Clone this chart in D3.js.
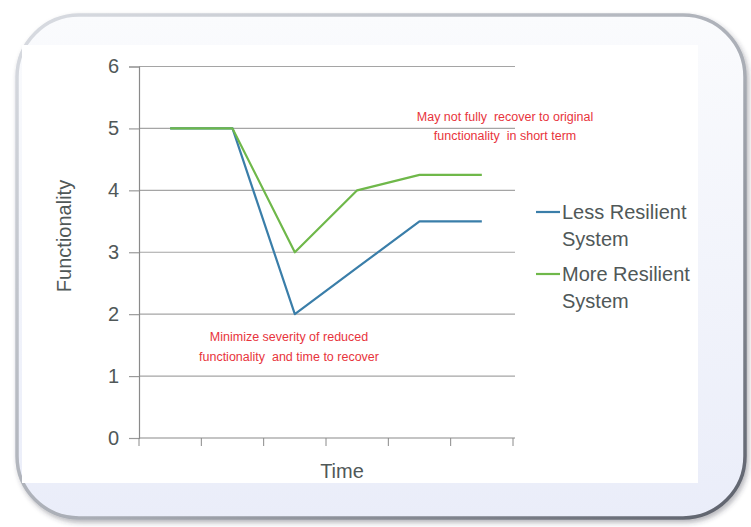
<!DOCTYPE html>
<html>
<head>
<meta charset="utf-8">
<script src="https://cdn.jsdelivr.net/npm/d3@7"></script>
<style>
  body { margin: 0; background: #fff; }
  svg { display: block; font-family: Arial, "Liberation Sans", sans-serif; }
</style>
</head>
<body>
<div id="chart"></div>
<script>
// chart data
const timeSteps = ['t1', 't2', 't3', 't4', 't5', 't6']
const lessResilient = [5, 5, 2, 2.75, 3.5, 3.5]
const moreResilient = [5, 5, 3, 4, 4.25, 4.25]
const yTicks = [0, 1, 2, 3, 4, 5, 6]
const legendNames = [['Less Resilient', 'System'], ['More Resilient', 'System']]

const series = [
    { name: legendNames[0], values: lessResilient, color: '#3a7ea9' },
    { name: legendNames[1], values: moreResilient, color: '#6fb84a' },
]

const width = 751
const height = 527
const margin = { top: 66.5, left: 139, right: 513, bottom: 438 }

const svg = d3
    .select('#chart')
    .append('svg')
    .attr('width', width)
    .attr('height', height)

// frame: light top-left edge, darker bottom-right edge, soft shadow
const defs = svg.append('defs')
const shadow = defs.append('filter').attr('id', 'shadow')
    .attr('x', '-5%').attr('y', '-5%').attr('width', '110%').attr('height', '110%')
shadow.append('feDropShadow')
    .attr('dx', 2).attr('dy', 3).attr('stdDeviation', 2.5)
    .attr('flood-color', '#303040').attr('flood-opacity', 0.35)

const frameFill = defs.append('linearGradient').attr('id', 'frame-fill')
    .attr('x1', '0%').attr('x2', '0%').attr('y1', '0%').attr('y2', '100%')
frameFill.append('stop').attr('offset', '0%').attr('stop-color', '#fafbfd')
frameFill.append('stop').attr('offset', '100%').attr('stop-color', '#eaedf9')

const frameStroke = defs.append('linearGradient').attr('id', 'frame-stroke')
    .attr('x1', '0%').attr('x2', '100%').attr('y1', '0%').attr('y2', '100%')
frameStroke.append('stop').attr('offset', '0%').attr('stop-color', '#d9dce2')
frameStroke.append('stop').attr('offset', '55%').attr('stop-color', '#a9adb5')
frameStroke.append('stop').attr('offset', '100%').attr('stop-color', '#5d616c')

svg.append('rect')
    .attr('x', 17).attr('y', 15)
    .attr('width', 728).attr('height', 503)
    .attr('rx', 62).attr('ry', 62)
    .attr('fill', 'url(#frame-fill)')
    .attr('stroke', 'url(#frame-stroke)')
    .attr('stroke-width', 3.5)
    .attr('filter', 'url(#shadow)')

// white chart area
svg.append('rect')
    .attr('x', 22).attr('y', 45)
    .attr('width', 676).attr('height', 438)
    .attr('fill', '#fff')

// scales
const x = d3.scaleBand().domain(timeSteps).range([margin.left, margin.right])
const y = d3.scaleLinear().domain([0, 6]).range([margin.bottom, margin.top])

// gridlines
svg.append('g')
    .selectAll('line')
    .data(yTicks.filter((d) => d > 0))
    .enter()
    .append('line')
    .attr('x1', margin.left)
    .attr('x2', margin.right + 2)
    .attr('y1', (d) => y(d))
    .attr('y2', (d) => y(d))
    .attr('stroke', '#a5a5a5')
    .attr('stroke-width', 1.2)

// y axis
const yAxis = d3.axisLeft(y).tickValues(yTicks).tickFormat(d3.format('d')).tickSize(10).tickPadding(10)
svg.append('g')
    .attr('transform', `translate(${margin.left},0)`)
    .call(yAxis)
    .call((g) => g.select('.domain').attr('stroke', '#8a8a8a').attr('stroke-width', 1.2))
    .call((g) => g.selectAll('.tick line').attr('stroke', '#9a9a9a').attr('stroke-width', 1.2))
    .call((g) =>
        g.selectAll('.tick text')
            .attr('fill', '#505858')
            .style('font-size', '20px')
    )

// x axis with ticks between categories
const xAxisG = svg.append('g')
    .attr('transform', `translate(0,${margin.bottom})`)
xAxisG.append('line')
    .attr('x1', margin.left).attr('x2', margin.right + 2)
    .attr('stroke', '#8a8a8a').attr('stroke-width', 1.2)
const tickPos = timeSteps.map((d) => x(d)).concat([x(timeSteps[timeSteps.length - 1]) + x.bandwidth()])
xAxisG.selectAll('.xtick')
    .data(tickPos)
    .enter()
    .append('line')
    .attr('class', 'xtick')
    .attr('x1', (d) => d).attr('x2', (d) => d)
    .attr('y1', 0).attr('y2', 8)
    .attr('stroke', '#8a8a8a')

// axis titles
svg.append('text')
    .attr('transform', `translate(71,236) rotate(-90)`)
    .attr('text-anchor', 'middle')
    .attr('fill', '#505858')
    .style('font-size', '20px')
    .text('Functionality')

svg.append('text')
    .attr('x', 342).attr('y', 478)
    .attr('text-anchor', 'middle')
    .attr('fill', '#505858')
    .style('font-size', '20px')
    .text('Time')

// lines
const line = d3.line()
    .x((d, i) => x(timeSteps[i]) + x.bandwidth() / 2)
    .y((d) => y(d))

svg.append('g')
    .selectAll('path')
    .data(series)
    .enter()
    .append('path')
    .attr('fill', 'none')
    .attr('stroke', (d) => d.color)
    .attr('stroke-width', 2.2)
    .attr('stroke-linejoin', 'round')
    .attr('d', (d) => line(d.values))

// legend
const legend = svg.append('g')
    .selectAll('g')
    .data(series)
    .enter()
    .append('g')
    .attr('transform', (d, i) => `translate(536,${212 + i * 62})`)

legend.append('line')
    .attr('x1', 0).attr('x2', 24)
    .attr('stroke', (d) => d.color)
    .attr('stroke-width', 2.2)

legend.append('text')
    .attr('fill', '#505858')
    .style('font-size', '20px')
    .selectAll('tspan')
    .data((d) => d.name)
    .enter()
    .append('tspan')
    .attr('x', 26)
    .attr('y', (d, i) => 7 + i * 27)
    .text((d) => d)

// annotations
const notes = [
    { lines: ['May not fully  recover to original', 'functionality  in short term'], x: 505, y: 121, gap: 19 },
    { lines: ['Minimize severity of reduced', 'functionality  and time to recover'], x: 289, y: 341, gap: 20 },
]

svg.append('g')
    .selectAll('text')
    .data(notes)
    .enter()
    .append('text')
    .attr('text-anchor', 'middle')
    .attr('fill', '#e8343c')
    .style('font-size', '12.5px')
    .style('white-space', 'pre')
    .selectAll('tspan')
    .data((d) => d.lines.map((t, i) => ({ t, i, note: d })))
    .enter()
    .append('tspan')
    .attr('x', (d) => d.note.x)
    .attr('y', (d) => d.note.y + d.i * d.note.gap)
    .text((d) => d.t)
</script>
</body>
</html>
